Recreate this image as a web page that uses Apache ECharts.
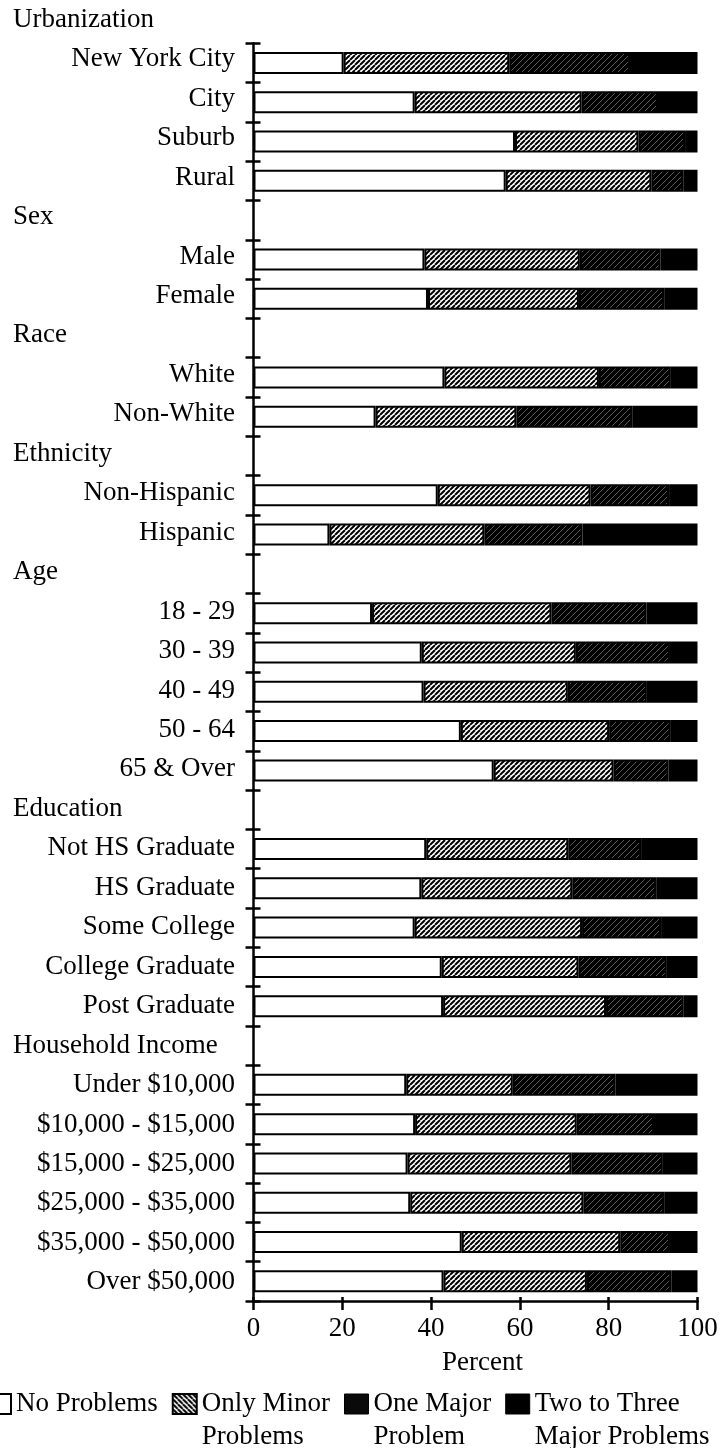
<!DOCTYPE html>
<html><head><meta charset="utf-8">
<script src="https://cdn.jsdelivr.net/npm/echarts@6/dist/echarts.min.js"></script>
<style>html,body{margin:0;padding:0;background:#fff}#c{width:726px;height:1448px}</style>
</head><body><div id="c"></div>
<script>
const categories = ['Urbanization','New York City','City','Suburb','Rural','Sex','Male','Female','Race','White','Non-White','Ethnicity','Non-Hispanic','Hispanic','Age','18 - 29','30 - 39','40 - 49','50 - 64','65 & Over','Education','Not HS Graduate','HS Graduate','Some College','College Graduate','Post Graduate','Household Income','Under $10,000','$10,000 - $15,000','$15,000 - $25,000','$25,000 - $35,000','$35,000 - $50,000','Over $50,000'];
const headers = ['Urbanization','Sex','Race','Ethnicity','Age','Education','Household Income'];
const noProblems = [null,20.3,36.3,58.9,56.8,null,38.5,39.3,null,43.0,27.5,null,41.5,17.1,null,26.7,37.9,38.3,46.7,54.1,null,38.9,37.8,36.3,42.4,42.7,null,34.4,36.4,34.7,35.3,46.9,42.8];
const onlyMinor  = [null,37.3,37.6,27.8,32.8,null,35.0,34.0,null,34.8,31.7,null,34.4,34.9,null,40.4,34.7,32.5,33.4,27.0,null,32.0,34.0,37.7,30.8,36.7,null,24.0,36.4,36.9,39.0,35.7,32.3];
const oneMajor   = [null,27.2,17.2,10.5,7.2,null,18.2,19.2,null,16.2,26.1,null,17.7,22.1,null,21.4,21.2,17.8,13.9,12.4,null,16.4,18.9,17.8,19.9,17.5,null,23.1,17.4,20.6,18.2,11.2,19.0];
const twoToThree = [null,15.2,8.9,2.8,3.2,null,8.3,7.5,null,6.0,14.7,null,6.4,25.9,null,11.5,6.2,11.4,6.0,6.5,null,12.7,9.3,8.2,6.9,3.1,null,18.5,9.8,7.8,7.5,6.2,5.9];
const seriesNames = ['No Problems','Only Minor\nProblems','One Major\nProblem','Two to Three\nMajor Problems'];
const xMin = 0, xMax = 100, xStep = 20;
const axisName = 'Percent';

const FONT = '"Liberation Serif", "Times New Roman", serif';

function makeHatch(bg, fg, size, lw, dir) {
  const c = document.createElement('canvas');
  c.width = size; c.height = size;
  const g = c.getContext('2d');
  g.fillStyle = bg; g.fillRect(0, 0, size, size);
  g.strokeStyle = fg; g.lineWidth = lw;
  g.beginPath();
  for (const o of [-size, 0, size]) {
    if (dir === '/') { g.moveTo(o, size); g.lineTo(o + size, 0); }
    else { g.moveTo(o, 0); g.lineTo(o + size, size); }
  }
  g.stroke();
  return c;
}
const minorPat = { image: makeHatch('#fff', '#000', 5, 2.0, '/'), repeat: 'repeat' };
const minorLegendPat = { image: makeHatch('#fff', '#000', 5, 2.0, '\\'), repeat: 'repeat' };
const majorPat = { image: makeHatch('#000', '#707070', 6, 0.8, '/'), repeat: 'repeat' };

const barCats = categories.slice(1);
const fills = ['#fff', minorPat, majorPat, '#000'];
const values = [noProblems, onlyMinor, oneMajor, twoToThree];

const chart = echarts.init(document.getElementById('c'), null, { renderer: 'canvas' });
const tickStyle = { color: '#000', width: 2.5 };

chart.setOption({
  animation: false,
  backgroundColor: '#fff',
  grid: [
    { left: 253.5, right: 28.5, top: 43.3, bottom: 147 },
    { left: 254, right: 28, top: 0, bottom: 146 }
  ],
  xAxis: [
    { gridIndex: 0, type: 'value', min: xMin, max: xMax, interval: xStep, position: 'bottom',
      axisLine: { show: true, lineStyle: tickStyle },
      axisTick: { show: true, length: 9, lineStyle: tickStyle },
      axisLabel: { margin: 14, fontSize: 27, fontFamily: FONT, color: '#000' },
      splitLine: { show: false },
      name: axisName, nameLocation: 'middle', nameGap: 48,
      nameTextStyle: { fontSize: 27, fontFamily: FONT, color: '#000', padding: [0, 0, 0, 14] } },
    { gridIndex: 0, type: 'value', min: xMin, max: xMax, interval: xStep, position: 'bottom',
      axisLine: { show: false }, axisTick: { show: true, inside: true, length: 4, lineStyle: tickStyle },
      axisLabel: { show: false }, splitLine: { show: false } },
    { gridIndex: 1, type: 'value', min: xMin, max: xMax, show: false }
  ],
  yAxis: [
    { gridIndex: 0, type: 'category', data: barCats, inverse: true, position: 'left',
      axisLine: { show: true, onZero: false, lineStyle: tickStyle },
      axisTick: { show: true, length: 8, lineStyle: tickStyle },
      axisLabel: { show: false } },
    { gridIndex: 0, type: 'category', data: barCats, inverse: true, position: 'left',
      axisLine: { show: false }, axisTick: { show: true, inside: true, length: 7, lineStyle: tickStyle },
      axisLabel: { show: false } },
    { gridIndex: 1, type: 'category', data: categories, inverse: true, position: 'left',
      axisLine: { show: false }, axisTick: { show: false },
      axisLabel: { interval: 0, margin: 19, fontSize: 27, fontFamily: FONT, color: '#000',
        formatter: v => headers.includes(v) ? '{h|' + v + '}' : v,
        rich: { h: { width: 222, align: 'left', fontSize: 27, fontFamily: FONT, color: '#000' } } } }
  ],
  legend: {
    left: -14, top: 1354.5, padding: 0, itemGap: 14, itemWidth: 24, itemHeight: 20,
    icon: 'rect', selectedMode: false,
    formatter: n => n.indexOf('\n') >= 0 ? '\n' + n : n,
    textStyle: { fontSize: 27, fontFamily: FONT, color: '#000', lineHeight: 33 },
    data: [
      { name: seriesNames[0], itemStyle: { color: '#fff', borderColor: '#000', borderWidth: 2 } },
      { name: seriesNames[1], itemStyle: { color: minorLegendPat, borderColor: '#000', borderWidth: 2 } },
      { name: seriesNames[2], itemStyle: { color: '#0a0a0a', borderColor: '#000', borderWidth: 1 } },
      { name: seriesNames[3], itemStyle: { color: '#000', borderColor: '#000', borderWidth: 1 } }
    ]
  },
  series: values.map((arr, i) => ({
    name: seriesNames[i], type: 'bar', stack: 'total', xAxisIndex: 0, yAxisIndex: 0,
    barWidth: 22,
    data: arr.slice(1),
    itemStyle: { color: fills[i], borderColor: '#000', borderWidth: 2 },
    emphasis: { disabled: true }
  }))
});
</script></body></html>
